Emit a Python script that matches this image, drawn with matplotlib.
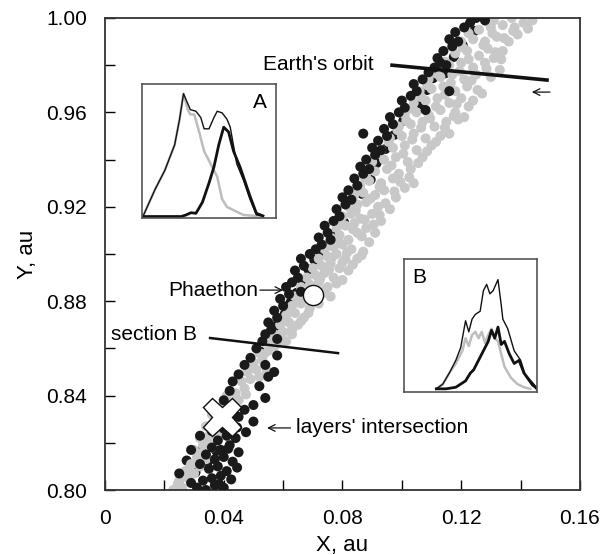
import matplotlib
matplotlib.use("Agg")
import matplotlib.pyplot as plt
from matplotlib.ticker import MultipleLocator, FixedFormatter, FixedLocator

plt.rcParams['font.family'] = ['Liberation Sans', 'DejaVu Sans']

# black particles (x, y in au)
black_x = [0.031, 0.034, 0.037, 0.040, 0.036, 0.033, 0.039, 0.029,
           0.035, 0.038, 0.041, 0.032, 0.037, 0.040, 0.043, 0.034,
           0.039, 0.042, 0.036, 0.045, 0.038, 0.041, 0.044, 0.040,
           0.043, 0.036, 0.042, 0.045, 0.050, 0.047, 0.025, 0.029, 0.032,
           0.037, 0.040, 0.042, 0.043, 0.045, 0.047, 0.049,
           0.050, 0.054, 0.052, 0.055, 0.057, 0.054, 0.058,
           0.051, 0.053, 0.054, 0.056, 0.055, 0.058, 0.057, 0.060, 0.059, 0.062,
           0.061, 0.063, 0.065, 0.064, 0.067, 0.066, 0.069, 0.058, 0.066,
           0.071, 0.073, 0.072, 0.075, 0.076, 0.074, 0.077, 0.079, 0.078, 0.081,
           0.080, 0.083, 0.082, 0.085, 0.084, 0.087, 0.086, 0.089, 0.088, 0.091,
           0.090, 0.093, 0.092, 0.095, 0.087,
           0.094, 0.097, 0.096, 0.099, 0.101, 0.100, 0.103, 0.105, 0.104, 0.107,
           0.108, 0.116, 0.109, 0.111, 0.113, 0.112, 0.115, 0.114, 0.117, 0.116,
           0.119, 0.118, 0.121, 0.123, 0.125, 0.128]
black_y = [0.801, 0.800, 0.802, 0.801, 0.805, 0.804, 0.806, 0.803,
           0.809, 0.810, 0.808, 0.811, 0.813, 0.814, 0.812, 0.815,
           0.817, 0.819, 0.818, 0.816, 0.821, 0.823, 0.822, 0.826,
           0.827, 0.825, 0.830, 0.831, 0.829, 0.834, 0.807, 0.817, 0.823,
           0.833, 0.838, 0.842, 0.846, 0.849, 0.853, 0.856,
           0.836, 0.839, 0.844, 0.848, 0.850, 0.853, 0.857,
           0.860, 0.863, 0.866, 0.868, 0.871, 0.873, 0.876, 0.878, 0.881, 0.883,
           0.886, 0.888, 0.890, 0.893, 0.895, 0.898, 0.900, 0.864, 0.884,
           0.902, 0.904, 0.907, 0.909, 0.906, 0.912, 0.914, 0.916, 0.919, 0.921,
           0.924, 0.923, 0.927, 0.929, 0.932, 0.934, 0.937, 0.936, 0.940, 0.942,
           0.945, 0.944, 0.948, 0.950, 0.951,
           0.953, 0.955, 0.958, 0.960, 0.962, 0.965, 0.967, 0.969, 0.972, 0.974,
           0.961, 0.969, 0.977, 0.979, 0.981, 0.983, 0.980, 0.986, 0.988, 0.991,
           0.990, 0.994, 0.996, 0.998, 1.000, 0.999]

# extra black particles (denser core at the bottom, thicker left edge)
black2_x = [0.0305, 0.0345, 0.0375, 0.0415, 0.0335, 0.0395, 0.0445, 0.0375, 0.0275,
            0.0425, 0.0445, 0.0475, 0.0385, 0.0325,
            0.0525, 0.0565, 0.0575, 0.0605, 0.0625, 0.0645, 0.0665, 0.0685, 0.0705,
            0.0735, 0.0775, 0.0805, 0.0835, 0.0865, 0.0895, 0.0915, 0.0945, 0.0975,
            0.1005, 0.1065, 0.1085, 0.1105, 0.1145, 0.1175, 0.1205, 0.1245]
black2_y = [0.8075, 0.8115, 0.8165, 0.8175, 0.8205, 0.8245, 0.8265, 0.8285, 0.8125,
            0.8045, 0.8095, 0.8245, 0.8025, 0.8165,
            0.8585, 0.8625, 0.8695, 0.8745, 0.8795, 0.8835, 0.8885, 0.8935, 0.8975,
            0.9005, 0.9075, 0.9135, 0.9195, 0.9255, 0.9315, 0.9385, 0.9445, 0.9505,
            0.9565, 0.9635, 0.9695, 0.9745, 0.9765, 0.9835, 0.9885, 0.9945]

# gray particles
gray_x = [0.023, 0.026, 0.025, 0.028, 0.027, 0.030, 0.029, 0.032, 0.031, 0.034,
          0.030, 0.033, 0.036, 0.032, 0.035, 0.038, 0.034, 0.037, 0.040, 0.036,
          0.039, 0.042, 0.045, 0.041, 0.044, 0.047, 0.046, 0.049, 0.052, 0.048,
          0.051, 0.050, 0.053, 0.052, 0.055, 0.057,
          0.055, 0.058, 0.061, 0.057, 0.060, 0.063, 0.059, 0.062, 0.065, 0.061,
          0.064, 0.067, 0.063, 0.066, 0.069, 0.072, 0.064, 0.067, 0.073, 0.076,
          0.066, 0.069, 0.072, 0.075, 0.068, 0.071, 0.074, 0.077, 0.080, 0.070,
          0.073, 0.076, 0.079, 0.082, 0.072, 0.075, 0.078, 0.081, 0.085,
          0.074, 0.077, 0.080, 0.083, 0.087, 0.076, 0.079, 0.082, 0.085, 0.089,
          0.078, 0.081, 0.084, 0.088, 0.091, 0.080, 0.083, 0.086, 0.090, 0.093,
          0.082, 0.085, 0.088, 0.092, 0.096, 0.084, 0.087, 0.091, 0.094, 0.098,
          0.086, 0.089, 0.093, 0.097, 0.101, 0.104, 0.088, 0.091, 0.095, 0.099,
          0.103, 0.090, 0.094, 0.098, 0.102, 0.107, 0.093, 0.097, 0.101, 0.105,
          0.110, 0.096, 0.100, 0.104, 0.108, 0.113, 0.116,
          0.099, 0.103, 0.107, 0.111, 0.115, 0.119, 0.101, 0.105, 0.109, 0.113,
          0.118, 0.121, 0.104, 0.108, 0.112, 0.116, 0.120, 0.124, 0.106, 0.110,
          0.114, 0.118, 0.122, 0.127, 0.109, 0.113, 0.117, 0.121, 0.125, 0.130,
          0.133, 0.112, 0.116, 0.120, 0.124, 0.128, 0.131, 0.118, 0.122, 0.126,
          0.129, 0.134, 0.120, 0.124, 0.128, 0.132, 0.136, 0.139, 0.126, 0.130,
          0.134, 0.138, 0.141, 0.144, 0.131, 0.137]
gray_y = [0.800, 0.801, 0.804, 0.805, 0.808, 0.807, 0.811, 0.810, 0.814, 0.813,
          0.817, 0.819, 0.818, 0.822, 0.823, 0.824, 0.827, 0.828, 0.829, 0.832,
          0.835, 0.836, 0.838, 0.840, 0.841, 0.843, 0.846, 0.847, 0.848, 0.850,
          0.851, 0.854, 0.855, 0.858, 0.859, 0.861,
          0.862, 0.862, 0.863, 0.866, 0.867, 0.866, 0.870, 0.871, 0.870, 0.874,
          0.875, 0.873, 0.878, 0.879, 0.877, 0.879, 0.882, 0.883, 0.883, 0.882,
          0.886, 0.887, 0.888, 0.886, 0.890, 0.891, 0.892, 0.890, 0.889, 0.894,
          0.895, 0.896, 0.894, 0.893, 0.898, 0.899, 0.900, 0.898, 0.898,
          0.902, 0.903, 0.904, 0.902, 0.901, 0.907, 0.908, 0.906, 0.909, 0.905,
          0.911, 0.912, 0.913, 0.911, 0.909, 0.916, 0.917, 0.915, 0.917, 0.914,
          0.920, 0.921, 0.922, 0.920, 0.919, 0.925, 0.926, 0.925, 0.927, 0.924,
          0.929, 0.931, 0.930, 0.932, 0.928, 0.930, 0.934, 0.935, 0.936, 0.934,
          0.936, 0.939, 0.940, 0.941, 0.939, 0.941, 0.944, 0.945, 0.946, 0.944,
          0.946, 0.949, 0.950, 0.951, 0.949, 0.950, 0.951,
          0.954, 0.955, 0.956, 0.954, 0.956, 0.957, 0.959, 0.960, 0.959, 0.961,
          0.960, 0.958, 0.964, 0.965, 0.966, 0.964, 0.966, 0.965, 0.969, 0.970,
          0.971, 0.969, 0.971, 0.968, 0.974, 0.975, 0.976, 0.974, 0.976, 0.975,
          0.978, 0.979, 0.980, 0.981, 0.979, 0.981, 0.983, 0.985, 0.986, 0.984,
          0.987, 0.986, 0.990, 0.991, 0.990, 0.992, 0.990, 0.993, 0.995, 0.996,
          0.997, 0.996, 0.998, 0.999, 0.999, 1.000]

# more gray particles filling the gaps of the stream
gray2_x = [0.0245, 0.0285, 0.0325, 0.0345, 0.0385, 0.0435, 0.0475, 0.0495, 0.0535, 0.0545,
           0.056, 0.0595, 0.063, 0.060, 0.066, 0.0625, 0.0685, 0.071, 0.065, 0.0695,
           0.074, 0.078, 0.0725, 0.0755, 0.080, 0.0835, 0.0765, 0.0865,
           0.0755, 0.0815, 0.0785, 0.0865, 0.0835, 0.0905, 0.0795, 0.0875, 0.0925, 0.0845,
           0.0815, 0.0945, 0.0895, 0.0975, 0.0855, 0.0925, 0.0995, 0.1025, 0.0875, 0.0965,
           0.1055, 0.0925, 0.1005, 0.1085, 0.0955, 0.1035, 0.1115, 0.0985, 0.1065, 0.1145,
           0.1015, 0.1095, 0.1175, 0.1035, 0.1115, 0.1225, 0.1065, 0.1145, 0.1185, 0.1255,
           0.1085, 0.1165, 0.1235, 0.1115, 0.1195, 0.1285, 0.1145, 0.1225, 0.1335, 0.1205,
           0.1275, 0.1315, 0.1225, 0.1305, 0.1375, 0.1285, 0.1425, 0.1345]
gray2_y = [0.8025, 0.8095, 0.8155, 0.8205, 0.8265, 0.8375, 0.8405, 0.8525, 0.8575, 0.8505,
           0.864, 0.8645, 0.868, 0.872, 0.8715, 0.8765, 0.875, 0.881, 0.8805, 0.885,
           0.8845, 0.8875, 0.8895, 0.8935, 0.8965, 0.8955, 0.8985, 0.8995,
           0.9045, 0.9005, 0.9055, 0.9075, 0.9105, 0.9125, 0.9135, 0.9145, 0.9165, 0.9185,
           0.9225, 0.9215, 0.9235, 0.9265, 0.9275, 0.9285, 0.9305, 0.9325, 0.9325, 0.9375,
           0.9385, 0.9425, 0.9425, 0.9435, 0.9475, 0.9485, 0.9475, 0.9525, 0.9535, 0.9535,
           0.9565, 0.9575, 0.9585, 0.9615, 0.9625, 0.9625, 0.9665, 0.9675, 0.9635, 0.9695,
           0.9715, 0.9725, 0.9735, 0.9765, 0.9775, 0.9785, 0.9815, 0.9825, 0.9825, 0.9875,
           0.9885, 0.9855, 0.9935, 0.9935, 0.9945, 0.9985, 0.9955, 0.9915]

phaethon = (0.0701, 0.8826)
intersection = (0.0394, 0.831)
earth_orbit_x = [0.0967, 0.1489]
earth_orbit_y = [0.980, 0.9737]
section_b_x = [0.0354, 0.0785]
section_b_y = [0.8644, 0.858]

# inset A profiles (normalised units)
a_gray_x = [5, 40, 70, 100, 115, 127, 140, 148, 160, 175, 190, 210, 230, 245, 260, 290, 310, 370]
a_gray_y = [410, 330, 270, 190, 110, 30, 80, 95, 95, 150, 210, 250, 290, 360, 385, 400, 410, 415]
a_sum_x = [5, 40, 70, 100, 115, 127, 148, 165, 180, 190, 205, 220, 230, 245, 260, 270, 290, 310, 330, 350, 370]
a_sum_y = [410, 330, 270, 190, 110, 30, 80, 85, 105, 140, 140, 105, 85, 90, 110, 135, 250, 300, 360, 410, 413]
a_blk_x = [5, 120, 135, 150, 165, 185, 205, 220, 235, 250, 265, 280, 300, 330, 350, 370]
a_blk_y = [415, 415, 410, 403, 405, 370, 310, 260, 190, 135, 150, 210, 260, 350, 405, 413]

# inset B profiles
b_gray_x = [100, 120, 140, 160, 180, 190, 200, 210, 220, 230, 240, 250, 260, 270, 280, 290, 300, 310, 330, 350, 370, 390]
b_gray_y = [410, 395, 360, 330, 290, 250, 275, 240, 230, 250, 230, 265, 240, 220, 250, 260, 300, 340, 375, 395, 405, 410]
b_sum_x = [100, 120, 140, 160, 175, 190, 200, 210, 220, 235, 245, 255, 265, 275, 290, 300, 305, 320, 340, 360, 375, 395, 410]
b_sum_y = [410, 395, 360, 320, 280, 195, 230, 190, 175, 165, 100, 80, 110, 100, 65, 145, 190, 220, 290, 320, 370, 400, 410]
b_blk_x = [100, 130, 160, 175, 190, 205, 215, 230, 245, 260, 270, 280, 290, 300, 310, 325, 340, 355, 370, 385, 410]
b_blk_y = [410, 410, 405, 395, 385, 360, 350, 320, 290, 260, 225, 250, 215, 270, 260, 300, 330, 320, 360, 380, 410]

fig = plt.figure(figsize=(6.12, 5.55), dpi=100)
ax = fig.add_axes([0.1716, 0.1171, 0.776, 0.8505])

ax.scatter(black2_x, black2_y, s=52, color='#1a1a1a', edgecolors='none', zorder=2)
ax.scatter(gray_x, gray_y, s=52, color='#c8c8c8', edgecolors='none', zorder=2)
ax.scatter(gray2_x, gray2_y, s=52, color='#c8c8c8', edgecolors='none', zorder=2)
ax.scatter(black_x, black_y, s=52, color='#1a1a1a', edgecolors='none', zorder=3)

ax.plot(earth_orbit_x, earth_orbit_y, color='#111111', lw=2.6, zorder=4)
ax.plot(section_b_x, section_b_y, color='#111111', lw=1.8, zorder=4)
ax.plot(*phaethon, marker='o', ms=14.5, mfc='white', mec='#111111', mew=1.0, zorder=5)
ax.plot(*intersection, marker='X', ms=28, mfc='white', mec='#111111', mew=1.0, zorder=5)

arr = dict(arrowstyle='->', lw=0.9, color='#111111', shrinkA=0, shrinkB=0,
           mutation_scale=12)
ax.text(0.0905, 0.9805, "Earth's orbit", fontsize=15, ha='right', va='center')
ax.annotate('', xy=(0.1438, 0.9686), xytext=(0.1499, 0.9686), arrowprops=arr)
ax.text(0.0515, 0.8847, "Phaethon", fontsize=15, ha='right', va='center')
ax.annotate('', xy=(0.0600, 0.8847), xytext=(0.0522, 0.8847), arrowprops=arr)
ax.text(0.031, 0.8657, "section B", fontsize=15, ha='right', va='center')
ax.annotate('', xy=(0.0546, 0.8263), xytext=(0.0625, 0.8263), arrowprops=arr)
ax.text(0.0645, 0.8263, "layers' intersection", fontsize=15, va='center')

ax.set_xlim(0, 0.16)
ax.set_ylim(0.8, 1.0)
ax.xaxis.set_major_locator(FixedLocator([0, 0.04, 0.08, 0.12, 0.16]))
ax.xaxis.set_major_formatter(FixedFormatter(['0', '0.04', '0.08', '0.12', '0.16']))
ax.xaxis.set_minor_locator(MultipleLocator(0.02))
ax.yaxis.set_major_locator(FixedLocator([0.80, 0.84, 0.88, 0.92, 0.96, 1.00]))
ax.yaxis.set_major_formatter(FixedFormatter(['0.80', '0.84', '0.88', '0.92', '0.96', '1.00']))
ax.yaxis.set_minor_locator(MultipleLocator(0.02))
ax.tick_params(which='both', direction='in', labelsize=15)
ax.tick_params(axis='x', pad=14)
ax.tick_params(axis='y', pad=13)
ax.tick_params(which='major', length=7, width=1.0)
ax.tick_params(which='minor', length=7, width=1.0)
for sp in ax.spines.values():
    sp.set_color('#333333')
    sp.set_linewidth(1.3)
ax.set_xlabel("X, au", fontsize=16, labelpad=5)
ax.set_ylabel("Y, au", fontsize=16, labelpad=6)


def inset(rect, gx, gy, sx, sy, kx, ky, label, lx, ly):
    ia = fig.add_axes(rect)
    ia.plot(gx, gy, color='#bdbdbd', lw=1.8)
    ia.plot(sx, sy, color='#111111', lw=1.0)
    ia.plot(kx, ky, color='#111111', lw=2.0)
    ia.set_xlim(0, 410)
    ia.set_ylim(420, 0)
    ia.set_xticks([])
    ia.set_yticks([])
    for sp in ia.spines.values():
        sp.set_color('#555555')
        sp.set_linewidth(1.2)
    ia.text(lx, ly, label, fontsize=15, transform=ia.transAxes, va='center')
    return ia


inset([0.232, 0.607, 0.219, 0.2414], a_gray_x, a_gray_y, a_sum_x, a_sum_y,
      a_blk_x, a_blk_y, 'A', 0.83, 0.86)
inset([0.660, 0.2937, 0.2173, 0.2396], b_gray_x, b_gray_y, b_sum_x, b_sum_y,
      b_blk_x, b_blk_y, 'B', 0.06, 0.86)

fig.savefig('out.png', dpi=100)
